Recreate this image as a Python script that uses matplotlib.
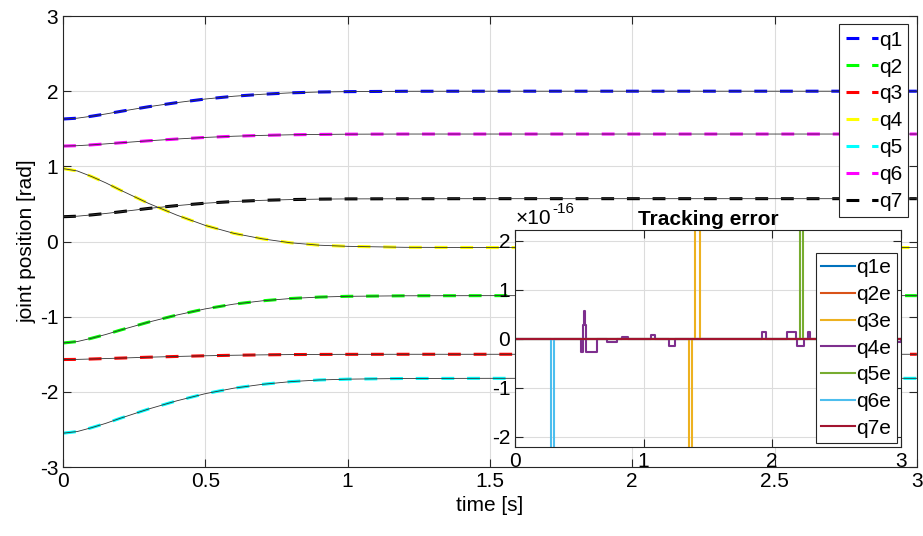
import matplotlib
matplotlib.use('Agg')
import matplotlib.pyplot as plt
import numpy as np

plt.rcParams['font.family'] = ['Liberation Sans', 'DejaVu Sans']
plt.rcParams['axes.unicode_minus'] = False

# joint trajectories
t = [0, 0.05, 0.1, 0.15, 0.2, 0.3, 0.4, 0.5, 0.6, 0.7, 0.8, 0.9, 1.0, 1.2, 1.5, 2.0, 3.0]
q1 = [1.630, 1.641, 1.667, 1.697, 1.730, 1.793, 1.848, 1.896, 1.933, 1.959, 1.978, 1.989, 1.994, 1.999, 2.0, 2.0, 2.0]
q2 = [-1.350, -1.331, -1.287, -1.237, -1.180, -1.073, -0.978, -0.896, -0.833, -0.789, -0.758, -0.739, -0.729, -0.722, -0.72, -0.72, -0.72]
q3 = [-1.570, -1.568, -1.563, -1.557, -1.551, -1.539, -1.529, -1.520, -1.513, -1.508, -1.504, -1.502, -1.501, -1.500, -1.50, -1.50, -1.50]
q4 = [0.970, 0.939, 0.865, 0.781, 0.687, 0.508, 0.351, 0.214, 0.109, 0.036, -0.017, -0.049, -0.064, -0.077, -0.08, -0.08, -0.08]
q5 = [-2.550, -2.528, -2.477, -2.419, -2.353, -2.229, -2.119, -2.024, -1.951, -1.900, -1.864, -1.842, -1.831, -1.822, -1.82, -1.82, -1.82]
q6 = [1.270, 1.275, 1.286, 1.299, 1.313, 1.340, 1.364, 1.385, 1.401, 1.412, 1.420, 1.425, 1.428, 1.430, 1.43, 1.43, 1.43]
q7 = [0.330, 0.337, 0.354, 0.373, 0.395, 0.440, 0.478, 0.510, 0.532, 0.548, 0.558, 0.564, 0.567, 0.569, 0.57, 0.57, 0.57]

joints = [q1, q2, q3, q4, q5, q6, q7]
names = ['q1', 'q2', 'q3', 'q4', 'q5', 'q6', 'q7']
colors = ['#0000ff', '#00ff00', '#ff0000', '#ffff00', '#00ffff', '#ff00ff', '#000000']

# tracking error (units of 1e-16), step signals
e_zero_t = [0, 3.0]
e_zero_v = [0, 0]
e3_t = [0, 1.352, 1.375, 1.401, 1.435, 3.0]
e3_v = [0, -4.4, 0, 4.4, 0, 0]
e4_t = [0, 0.513, 0.526, 0.536, 0.545, 0.552, 0.635, 0.717, 0.790, 0.829, 0.881, 1.054, 1.088,
        1.199, 1.243, 1.924, 1.955, 2.116, 2.183, 2.196, 2.248, 2.279, 2.292, 2.96, 3.0]
e4_v = [0, -0.28, 0.28, 0.56, 0.28, -0.28, 0, -0.06, 0, 0.03, 0, 0.08, 0,
        -0.14, 0, 0.14, 0, 0.14, 0, -0.14, 0, 0.14, 0, -0.06, 0]
e5_t = [0, 2.215, 2.243, 3.0]
e5_v = [0, 4.4, 0, 0]
e6_t = [0, 0.280, 0.306, 3.0]
e6_v = [0, -4.4, 0, 0]

err_names = ['q1e', 'q2e', 'q3e', 'q4e', 'q5e', 'q6e', 'q7e']
err_t = [e_zero_t, e_zero_t, e3_t, e4_t, e5_t, e6_t, e_zero_t]
err_v = [e_zero_v, e_zero_v, e3_v, e4_v, e5_v, e6_v, e_zero_v]
err_colors = ['#0072bd', '#d95319', '#edb120', '#7e2f8e', '#77ac30', '#4dbeee', '#a2142f']

spine_c = '#262626'
grid_c = '#dcdcdc'

fig = plt.figure(figsize=(9.23, 5.36), dpi=100)
ax = fig.add_axes([0.0683, 0.1287, 0.925, 0.8414])

for q, n, c in zip(joints, names, colors):
    ax.plot(t, q, color=c, lw=2.2, dashes=[4.2, 4.2], label=n)
for q in joints:
    ax.plot(t, q, color='#333333', lw=0.6)

ax.set_xlim(0, 3)
ax.set_ylim(-3, 3)
ax.set_xticks([0, 0.5, 1, 1.5, 2, 2.5, 3])
ax.set_xticklabels(['0', '0.5', '1', '1.5', '2', '2.5', '3'])
ax.set_yticks([-3, -2, -1, 0, 1, 2, 3])
ax.grid(True, color=grid_c, lw=0.8)
ax.set_axisbelow(True)
ax.tick_params(direction='in', top=True, right=True, labelsize=15, color=spine_c, length=6)
for s in ax.spines.values():
    s.set_color(spine_c)
ax.set_xlabel('time [s]', fontsize=15)
ax.set_ylabel('joint position [rad]', fontsize=15, labelpad=2)
leg = ax.legend(loc='upper right', fontsize=15, handlelength=1.55, handletextpad=0.05,
                labelspacing=0.38, borderpad=0.3, borderaxespad=0.4, fancybox=False,
                framealpha=1, edgecolor=spine_c)
leg.get_frame().set_linewidth(0.8)

# inset
ax2 = fig.add_axes([0.558, 0.166, 0.418, 0.404])
for tt, vv, n, c in zip(err_t, err_v, err_names, err_colors):
    ax2.plot(tt, np.array(vv) * 1e-16, color=c, lw=1.5, drawstyle='steps-post', label=n)
ax2.set_xlim(0, 3)
ax2.set_ylim(-2.21e-16, 2.21e-16)
ax2.set_xticks([0, 1, 2, 3])
ax2.set_yticks(np.array([-2, -1, 0, 1, 2]) * 1e-16)
ax2.set_yticklabels(['-2', '-1', '0', '1', '2'])
ax2.text(0.002, 1.012, '\u00d710', transform=ax2.transAxes, fontsize=15, ha='left', va='bottom')
ax2.text(0.098, 1.065, '-16', transform=ax2.transAxes, fontsize=11, ha='left', va='bottom')
ax2.grid(True, color=grid_c, lw=0.8)
ax2.set_axisbelow(True)
ax2.tick_params(direction='in', top=True, right=True, labelsize=15, color=spine_c, length=6)
for s in ax2.spines.values():
    s.set_color(spine_c)
ax2.set_title('Tracking error', fontsize=15, fontweight='bold', pad=4)
leg2 = ax2.legend(loc='lower right', fontsize=15, handlelength=1.6, handletextpad=0.1,
                  labelspacing=0.37, borderpad=0.25, borderaxespad=0.2, fancybox=False,
                  framealpha=1, edgecolor=spine_c)
leg2.get_frame().set_linewidth(0.8)

fig.savefig('out.png', dpi=100)
